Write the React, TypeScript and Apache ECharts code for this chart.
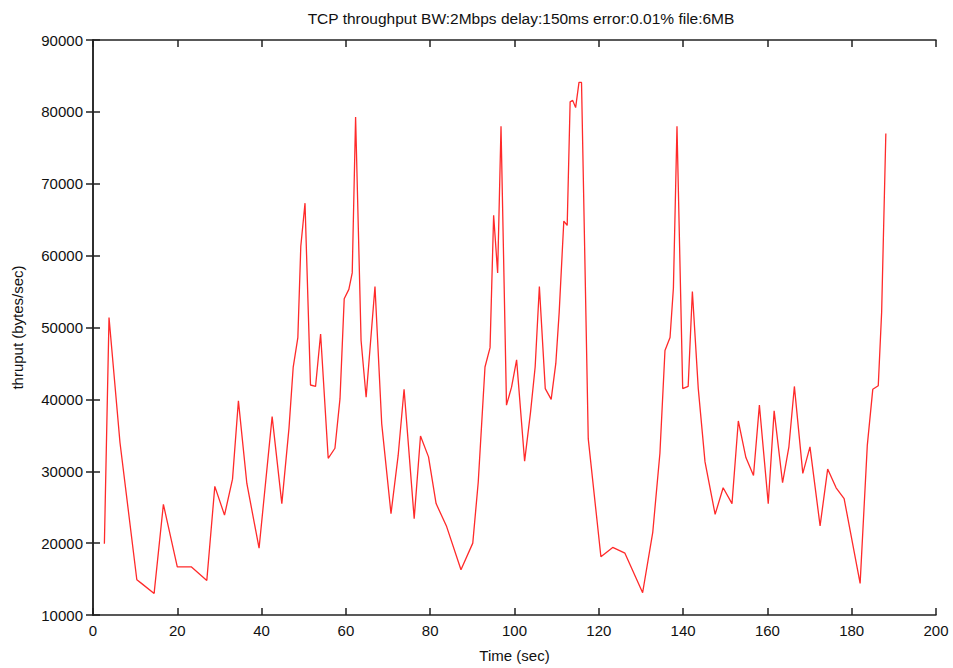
import React, { useEffect, useRef } from "react";
import * as echarts from "echarts";

const titleText = "TCP throughput BW:2Mbps delay:150ms error:0.01% file:6MB";
const xAxisName = "Time (sec)";
const yAxisName = "thruput (bytes/sec)";

const times: number[] = [
  2.7, 3.8, 6.4, 10.4, 11.5, 14.5, 16.7, 20, 23.3, 27,
  28.9, 31.2, 33.1, 34.5, 36.5, 39.4, 42.5, 44.8, 46.5, 47.5,
  48.6, 49.3, 50.3, 51.6, 52.8, 54.0, 55.8, 57.4, 58.6, 59.6,
  60.7, 61.5, 62.3, 63.6, 64.8, 66.9, 68.5, 70.7, 72.4, 73.8,
  76.2, 77.7, 79.6, 81.4, 83.9, 87.3, 90.1, 91.4, 93.0, 94.2,
  95.05, 96.0, 96.8, 98.1, 99.3, 100.5, 102.4, 103.8, 104.9, 105.9,
  107.3, 108.7, 109.8, 110.6, 111.7, 112.5, 113.2, 113.8, 114.5, 115.3,
  115.9, 117.5, 120.5, 123.3, 126.2, 130.4, 132.8, 134.5, 135.7, 136.9,
  137.7, 138.55, 139.9, 141.2, 142.2, 143.6, 145.2, 147.6, 149.5, 151.6,
  153.1, 154.9, 156.7, 158.1, 160.2, 161.6, 163.6, 165.1, 166.4, 168.4,
  170.1, 172.5, 174.3, 176.3, 178.2, 182.0, 183.7, 185.0, 186.3, 187.1,
  188.1,
];

const throughput: number[] = [
  19900, 51400, 34000, 14900, 14400, 13000, 25400, 16700, 16700, 14800,
  27900, 23900, 28900, 39800, 28300, 19300, 37600, 25500, 36000, 44500,
  48600, 61300, 67300, 42000, 41800, 49100, 31800, 33200, 40100, 54000,
  55300, 57600, 79300, 48200, 40300, 55700, 36600, 24100, 32200, 41400,
  23400, 34900, 32000, 25500, 22300, 16300, 20000, 28500, 44500, 47200,
  65600, 57600, 78000, 39200, 41700, 45500, 31400, 38200, 44500, 55700,
  41500, 40000, 45000, 52100, 64800, 64200, 81400, 81600, 80600, 84100,
  84100, 34500, 18100, 19400, 18600, 13100, 21500, 32500, 46800, 48600,
  55500, 78000, 41500, 41800, 55000, 41500, 31300, 24000, 27700, 25500,
  37000, 31900, 29400, 39200, 25500, 38400, 28400, 33400, 41800, 29700,
  33400, 22400, 30300, 27700, 26200, 14400, 33600, 41400, 41900, 52100,
  77000,
];

const FONT = "'Liberation Sans', Arial, Helvetica, sans-serif";

export default function App() {
  const ref = useRef<HTMLDivElement>(null);

  useEffect(() => {
    if (!ref.current) return;
    const chart = echarts.init(ref.current, undefined, { renderer: "svg" });
    const data = times.map((t, i) => [t, throughput[i]]);
    const axisLine = { show: true, lineStyle: { color: "#222", width: 1.5 } };
    const axisTick = { show: true, inside: true, length: 7, lineStyle: { color: "#222", width: 1.5 } };
    const plain = (v: number) => String(v);
    chart.setOption({
      animation: false,
      backgroundColor: "#fff",
      title: {
        text: titleText,
        left: 516,
        top: 5,
        textAlign: "center",
        textStyle: { fontFamily: FONT, fontSize: 15.5, fontWeight: "normal", color: "#111" },
      },
      grid: { left: 93, right: 17, top: 40, bottom: 51 },
      xAxis: [
        {
          type: "value",
          min: 0,
          max: 200,
          interval: 20,
          position: "bottom",
          axisLine,
          axisTick,
          splitLine: { show: false },
          axisLabel: { fontFamily: FONT, fontSize: 15, color: "#111", margin: 8, formatter: plain },
          name: xAxisName,
          nameLocation: "middle",
          nameGap: 33,
          nameTextStyle: { fontFamily: FONT, fontSize: 15, color: "#111" },
        },
        {
          type: "value",
          min: 0,
          max: 200,
          interval: 20,
          position: "top",
          axisLine,
          axisTick,
          splitLine: { show: false },
          axisLabel: { show: false },
        },
      ],
      yAxis: [
        {
          type: "value",
          min: 10000,
          max: 90000,
          interval: 10000,
          position: "left",
          axisLine,
          axisTick,
          splitLine: { show: false },
          axisLabel: { fontFamily: FONT, fontSize: 15, color: "#111", margin: 10, formatter: plain },
          name: yAxisName,
          nameLocation: "middle",
          nameGap: 68,
          nameTextStyle: { fontFamily: FONT, fontSize: 15, color: "#111" },
        },
        {
          type: "value",
          min: 10000,
          max: 90000,
          interval: 10000,
          position: "right",
          axisLine,
          axisTick,
          splitLine: { show: false },
          axisLabel: { show: false },
        },
      ],
      series: [
        {
          type: "line",
          xAxisIndex: 0,
          yAxisIndex: 0,
          data,
          showSymbol: false,
          symbol: "none",
          lineStyle: { color: "#ff2a2a", width: 1.3 },
        },
      ],
    });
    return () => chart.dispose();
  }, []);

  return <div ref={ref} style={{ width: 953, height: 668, position: "absolute", left: 0, top: 0 }} />;
}
